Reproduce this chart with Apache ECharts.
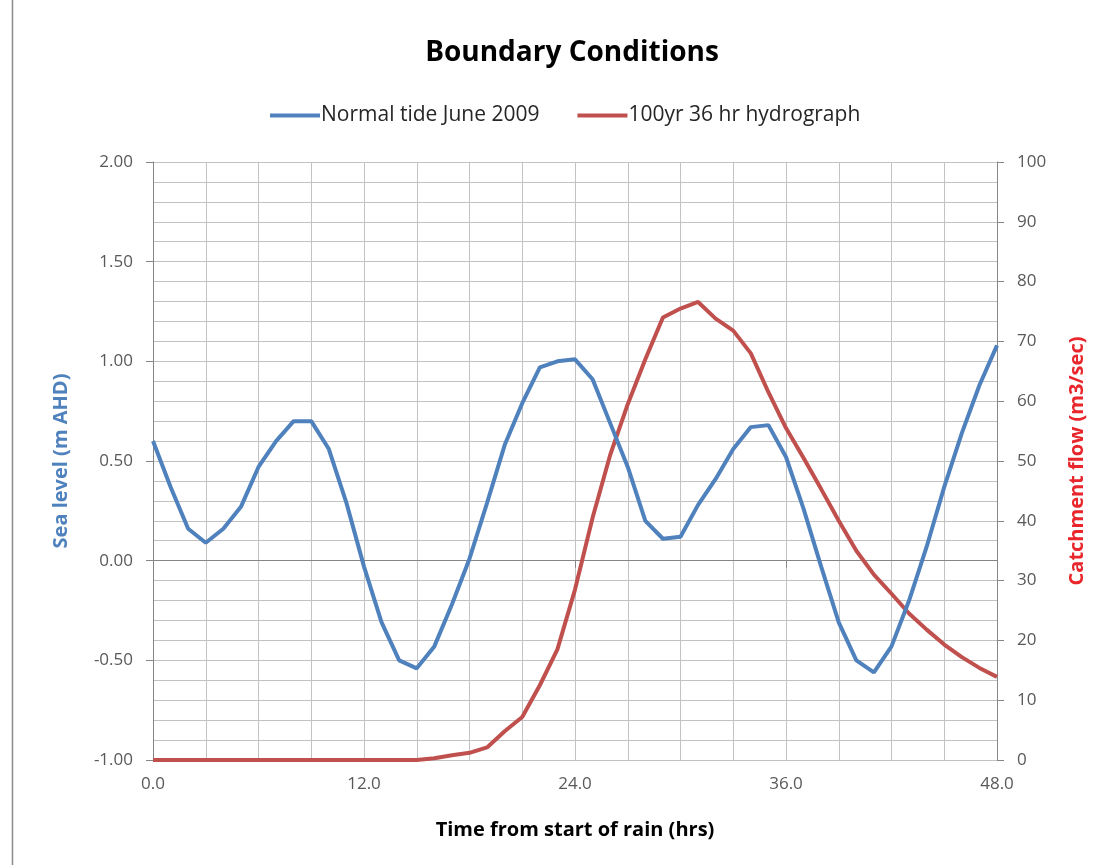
<!DOCTYPE html>
<html>
<head>
<meta charset="utf-8">
<title>Boundary Conditions</title>
<script src="https://cdn.jsdelivr.net/npm/echarts@6/dist/echarts.min.js"></script>
<style>
  html, body { margin: 0; padding: 0; background: #ffffff; }
  #chart { width: 1110px; height: 865px; }
</style>
</head>
<body>
<div id="chart"></div>
<script>
// Time axis (hours from start of rain), hourly steps
const hours = [0,1,2,3,4,5,6,7,8,9,10,11,12,13,14,15,16,17,18,19,20,21,22,23,24,
               25,26,27,28,29,30,31,32,33,34,35,36,37,38,39,40,41,42,43,44,45,46,47,48];

// Sea level (m AHD) for the normal June 2009 tide
const tideLevel = [0.60,0.37,0.16,0.09,0.16,0.27,0.47,0.60,0.70,0.70,0.56,0.29,-0.03,
                   -0.31,-0.50,-0.54,-0.43,-0.22,0.01,0.29,0.58,0.79,0.97,1.00,1.01,
                   0.91,0.69,0.47,0.20,0.11,0.12,0.28,0.41,0.56,0.67,0.68,0.52,0.26,
                   -0.03,-0.31,-0.50,-0.56,-0.43,-0.20,0.07,0.37,0.64,0.88,1.08];

// Catchment flow (m3/sec) for the 100 yr 36 hr hydrograph
const catchmentFlow = [0,0,0,0,0,0,0,0,0,0,0,0,0,0,0,0,0.3,0.8,1.2,2.1,4.8,7.2,12.5,
                       18.5,28.5,40.5,51,59.5,67,74,75.5,76.6,73.8,71.8,68,61.5,55.5,
                       50.5,45.3,40,35,31,27.8,24.5,21.8,19.3,17.2,15.4,13.9];

const seriesNames = ['Normal tide June 2009', '100yr 36 hr hydrograph'];

const FONT = '"Open Sans", "Liberation Sans", sans-serif';
const BLUE = '#4F81BD';
const RED = '#C0504D';
const AXIS_GREY = '#868686';
const GRID_GREY = '#c2c2c2';
const LABEL_GREY = '#595959';

const pairs = (xs, ys) => xs.map((x, i) => [x, ys[i]]);

const chart = echarts.init(document.getElementById('chart'), null, { renderer: 'canvas' });

chart.setOption({
  backgroundColor: '#ffffff',
  animation: false,
  title: {
    text: 'Boundary Conditions',
    left: 567,
    textAlign: 'center',
    top: 34,
    textStyle: { fontFamily: FONT, fontWeight: 'bold', fontSize: 28, color: '#000000' }
  },
  legend: {
    top: 100,
    left: 265,
    itemGap: 38,
    itemWidth: 50,
    itemHeight: 4,
    icon: 'rect',
    textStyle: { fontFamily: FONT, fontSize: 21, color: '#262626', padding: [0, 0, 0, -4] },
    data: seriesNames
  },
  grid: { left: 153, right: 113, top: 162, bottom: 105, containLabel: false },
  xAxis: {
    type: 'value',
    min: 0,
    max: 48,
    interval: 12,
    name: 'Time from start of rain (hrs)',
    nameLocation: 'middle',
    nameGap: 60,
    nameTextStyle: { fontFamily: FONT, fontWeight: 'bold', fontSize: 20, color: '#000000' },
    axisLine: { lineStyle: { color: AXIS_GREY, width: 1 } },
    axisTick: { show: true, length: 7, lineStyle: { color: AXIS_GREY } },
    axisLabel: {
      margin: 16,
      fontFamily: FONT, fontSize: 17, color: LABEL_GREY,
      formatter: v => v.toFixed(1)
    },
    splitLine: { show: true, lineStyle: { color: GRID_GREY, width: 1 } },
    minorTick: { show: false, splitNumber: 4 },
    minorSplitLine: { show: true, lineStyle: { color: GRID_GREY, width: 1 } }
  },
  yAxis: [
    {
      type: 'value',
      min: -1,
      max: 2,
      interval: 0.5,
      position: 'left',
      name: 'Sea level (m AHD)',
      nameLocation: 'middle',
      nameGap: 82,
      nameRotate: 90,
      nameTextStyle: { fontFamily: FONT, fontWeight: 'bold', fontSize: 20, color: BLUE },
      axisLine: { show: true, lineStyle: { color: AXIS_GREY, width: 1 } },
      axisTick: { show: true, length: 7, lineStyle: { color: AXIS_GREY } },
      axisLabel: {
        margin: 20,
        fontFamily: FONT, fontSize: 17, color: LABEL_GREY,
        formatter: v => v.toFixed(2)
      },
      splitLine: { show: true, lineStyle: { color: GRID_GREY, width: 1 } },
      minorTick: { show: false, splitNumber: 5 },
      minorSplitLine: { show: true, lineStyle: { color: GRID_GREY, width: 1 } }
    },
    {
      type: 'value',
      min: 0,
      max: 100,
      interval: 10,
      position: 'right',
      name: 'Catchment flow (m3/sec)',
      nameLocation: 'middle',
      nameGap: 70,
      nameRotate: 90,
      nameTextStyle: { fontFamily: FONT, fontWeight: 'bold', fontSize: 20, color: '#E8262B' },
      axisLine: { show: true, lineStyle: { color: AXIS_GREY, width: 1 } },
      axisTick: { show: true, length: 7, lineStyle: { color: AXIS_GREY } },
      axisLabel: {
        margin: 20,
        fontFamily: FONT, fontSize: 17, color: LABEL_GREY
      },
      splitLine: { show: false }
    }
  ],
  series: [
    {
      name: seriesNames[0],
      type: 'line',
      yAxisIndex: 0,
      data: pairs(hours, tideLevel),
      showSymbol: false,
      color: BLUE,
      lineStyle: { color: BLUE, width: 4 },
      z: 3
    },
    {
      name: seriesNames[1],
      type: 'line',
      yAxisIndex: 1,
      data: pairs(hours, catchmentFlow),
      showSymbol: false,
      color: RED,
      lineStyle: { color: RED, width: 4 },
      z: 2
    }
  ],
  graphic: [
    {
      type: 'line',
      shape: { x1: 12.5, y1: 0, x2: 12.5, y2: 865 },
      style: { stroke: '#8c8c8c', lineWidth: 1.5 },
      silent: true
    }
  ]
});
</script>
</body>
</html>
